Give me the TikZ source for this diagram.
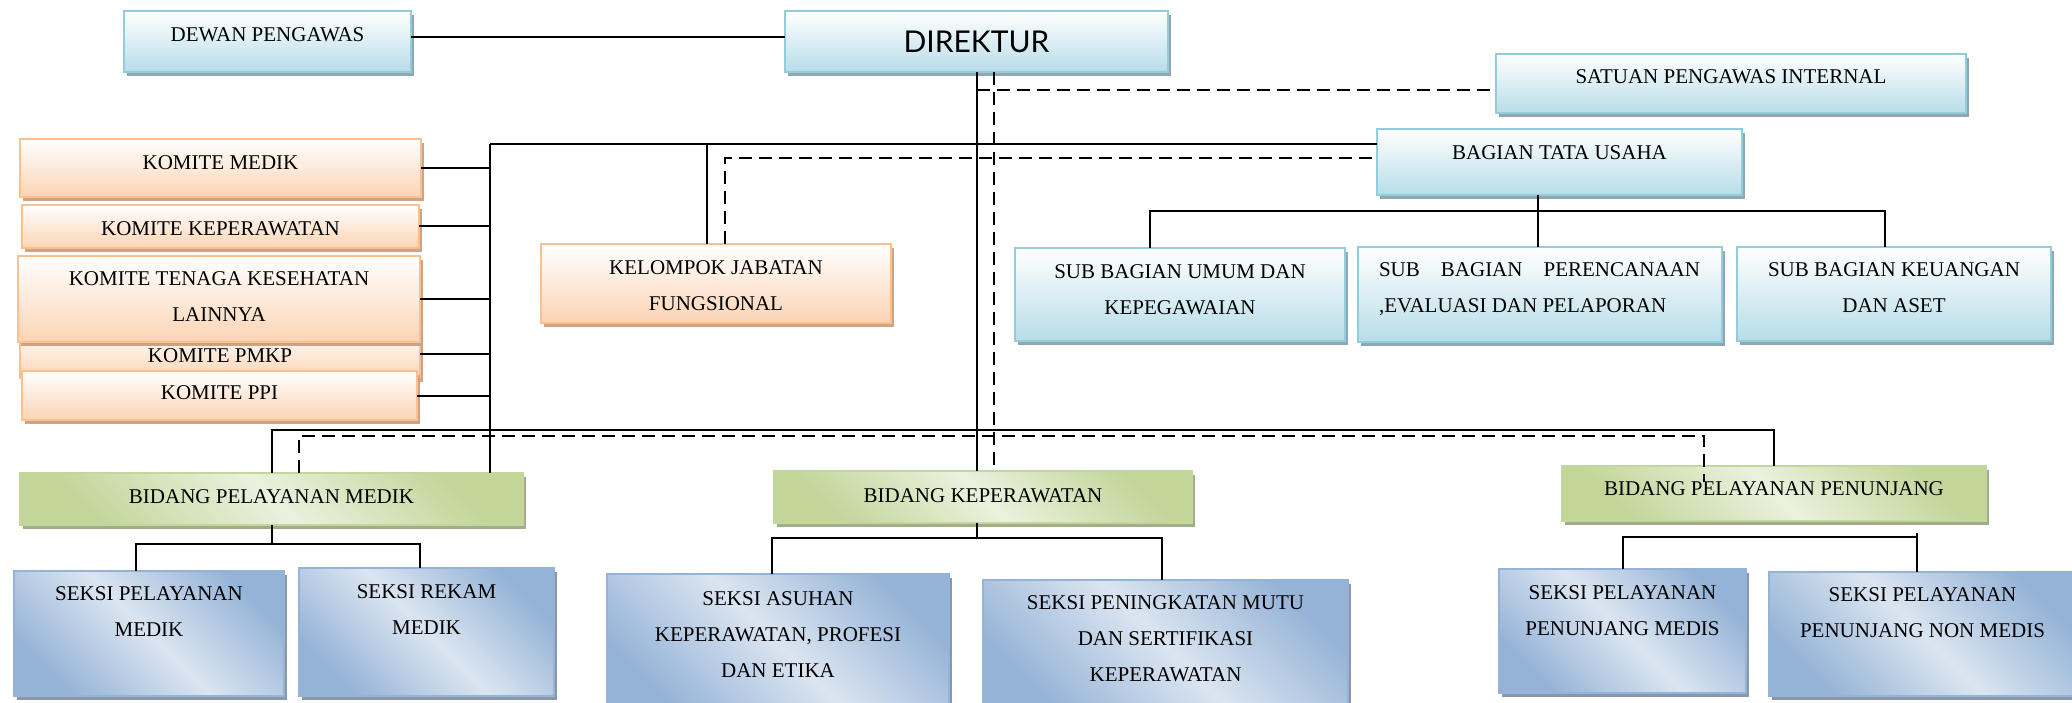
\documentclass[tikz,border=0pt]{standalone}
\usepackage{fontspec}
\setmainfont{Liberation Serif}
\newfontfamily\dirfont{Lato}
\usetikzlibrary{shadows,calc}

\definecolor{hdrB}{HTML}{93CDDD}
\definecolor{hdrF}{HTML}{B7DDE8}
\definecolor{hdrS}{HTML}{8FA7B2}
\definecolor{orB}{HTML}{FAC08F}
\definecolor{orF}{HTML}{FBD4B4}
\definecolor{orS}{HTML}{CCA384}
\definecolor{grB}{HTML}{C3D69B}
\definecolor{grF}{HTML}{C2D69A}
\definecolor{grL}{HTML}{EBF1DE}
\definecolor{grS}{HTML}{A5AC8C}
\definecolor{skB}{HTML}{95B3D7}
\definecolor{skF}{HTML}{95B3D7}
\definecolor{skL}{HTML}{DBE5F1}
\definecolor{skS}{HTML}{8A97A8}

\tikzset{
  boxbase/.style={rectangle, inner sep=0pt, outer sep=0pt, line width=2.5pt},
  hdr/.style={boxbase, draw=hdrB, top color=white, bottom color=hdrF,
    general shadow={fill=hdrS, shadow xshift=3pt, shadow yshift=-4pt}},
  orb/.style={boxbase, draw=orB, top color=white, bottom color=orF,
    general shadow={fill=orS, shadow xshift=3pt, shadow yshift=-4pt}},
  grb/.style={boxbase, draw=grB, top color=grF, bottom color=grF, middle color=grL, shading angle=-45,
    general shadow={fill=grS, shadow xshift=3pt, shadow yshift=-4pt}},
  skb/.style={boxbase, draw=skB, top color=skF, bottom color=skF, middle color=skL, shading angle=-45,
    general shadow={fill=skS, shadow xshift=3pt, shadow yshift=-4pt}},
  txt/.style={inner sep=0pt, outer sep=0pt, align=center, font=\fontsize{21}{36}\selectfont},
  conn/.style={draw=black, line width=2pt},
  dsh/.style={draw=black, line width=2pt, dash pattern=on 13pt off 7pt},
}

% #1 style, #2 name, #3 x1, #4 y1, #5 x2, #6 y2, #7 first-line centre y, #8 text
\newcommand\bx[8]{%
  \node[#1, minimum width=#5pt-#3pt, minimum height=#6pt-#4pt] (#2) at ({(#3+#5)/2},{(#4+#6)/2}) {};
  \node[txt, anchor=north] (#2-t) at ({(#3+#5)/2},{#7-7}) {#8};
}

\begin{document}
\begin{tikzpicture}[x=1pt, y=-1pt]
\useasboundingbox (0,0) rectangle (2072,703);

% header boxes
\bx{hdr}{dewan}{124}{11}{411}{72}{35}{DEWAN PENGAWAS}
\node[hdr, minimum width=383pt, minimum height=61pt] (direktur) at (976.5,41.5) {};
\node[inner sep=0pt, anchor=north, font=\dirfont\fontsize{30}{36}\selectfont] (direktur-t) at (976.5,31) {DIREKTUR};
\bx{hdr}{spi}{1496}{54}{1966}{113}{77}{SATUAN PENGAWAS INTERNAL}
\bx{hdr}{btu}{1377}{129}{1742}{195}{153}{BAGIAN TATA USAHA}
\bx{hdr}{sumum}{1015}{248}{1345}{341}{272}{SUB BAGIAN UMUM DAN\\KEPEGAWAIAN}
\node[hdr, minimum width=364pt, minimum height=95pt] (sperenc) at (1540,294.5) {};
\node[txt, align=left, anchor=north west] (sperenc-t) at (1379,263)
  {\makebox[321pt][s]{SUB BAGIAN PERENCANAAN}\\,EVALUASI DAN PELAPORAN};
\bx{hdr}{skeu}{1737}{247}{2051}{341}{270}{SUB BAGIAN KEUANGAN\\DAN ASET}

% komite boxes
\bx{orb}{km}{20}{139}{421}{197}{163}{KOMITE MEDIK}
\bx{orb}{kkep}{22}{205}{419}{248}{229}{KOMITE KEPERAWATAN}
\bx{orb}{kpmkp}{20}{330}{420}{378}{356}{KOMITE PMKP}
\bx{orb}{ktk}{18}{256}{420}{342}{279}{KOMITE TENAGA KESEHATAN\\LAINNYA}
\bx{orb}{kppi}{22}{371}{417}{420}{393}{KOMITE PPI}
\bx{orb}{kjf}{541}{244}{891}{323}{268}{KELOMPOK JABATAN\\FUNGSIONAL}

% bidang boxes
\bx{grb}{bmedik}{20}{473}{523}{525}{497}{BIDANG PELAYANAN MEDIK}
\bx{grb}{bkep}{774}{471}{1192}{523}{496}{BIDANG KEPERAWATAN}
\bx{grb}{bpen}{1562}{466}{1986}{521}{489}{BIDANG PELAYANAN PENUNJANG}

% seksi boxes
\bx{skb}{spm}{14}{571}{284}{696}{594}{SEKSI PELAYANAN\\MEDIK}
\bx{skb}{srm}{299}{568}{554}{696}{592}{SEKSI REKAM\\MEDIK}
\bx{skb}{sas}{607}{574}{949}{712}{599}{SEKSI ASUHAN\\KEPERAWATAN, PROFESI\\DAN ETIKA}
\bx{skb}{spk}{983}{580}{1348}{712}{603}{SEKSI PENINGKATAN MUTU\\DAN SERTIFIKASI\\KEPERAWATAN}
\bx{skb}{sppm}{1499}{569}{1746}{693}{593}{SEKSI PELAYANAN\\PENUNJANG MEDIS}
\bx{skb}{sppnm}{1769}{572}{2076}{696}{595}{SEKSI PELAYANAN\\PENUNJANG NON MEDIS}

% helper coordinates
\coordinate (yDew) at (0,37);
\coordinate (ySPI) at (0,90);
\coordinate (yTop) at (0,144);
\coordinate (yTopD) at (0,158);
\coordinate (ySub) at (0,211);
\coordinate (yBus) at (0,430);
\coordinate (yBusD) at (0,436);
\coordinate (yBM) at (0,544);
\coordinate (yBK) at (0,538);
\coordinate (yBP) at (0,537);
\coordinate (xK) at (490,0);
\coordinate (xKJ) at (707,0);
\coordinate (xKJd) at (725,0);
\coordinate (xDd) at (994,0);
\coordinate (xBTU) at (1538,0);
\coordinate (xSU) at (1150,0);
\coordinate (xSK) at (1885,0);
\coordinate (xBMd) at (299,0);
\coordinate (xBPd) at (1704,0);
\coordinate (xA) at (136,0);
\coordinate (xB) at (420,0);
\coordinate (xC) at (772,0);
\coordinate (xD) at (1162,0);
\coordinate (xF) at (1917,0);
\coordinate (bpD) at (1704,482);
\coordinate (bpT) at (1917,533);

% connectors
\draw[conn] (dewan.east |- yDew) -- (direktur.west |- yDew);
\draw[conn] (direktur.south) -- (direktur.south |- bkep.north);
\draw[dsh] (direktur.south -| xDd) -- (xDd |- bkep.north);
\draw[dsh] (direktur.south |- ySPI) -- (spi.west |- ySPI);

\draw[conn] (xK |- yTop) -- (btu.west |- yTop);
\draw[conn] (xK |- yTop) -- (xK |- bmedik.north);
\foreach \k in {km,kkep,ktk,kpmkp,kppi}{
  \draw[conn] (\k.east) -- (\k.east -| xK);
}
\draw[conn] (xKJ |- yTop) -- (xKJ |- kjf.north);
\draw[dsh] (xKJd |- kjf.north) -- (xKJd |- yTopD) -- (btu.west |- yTopD);

\draw[conn] (btu.south -| xBTU) -- (xBTU |- sperenc.north);
\draw[conn] (xSU |- sumum.north) -- (xSU |- ySub) -- (xSK |- ySub) -- (xSK |- skeu.north);

\draw[conn] (bmedik.north) -- (bmedik.north |- yBus) -- (bpen.north |- yBus) -- (bpen.north);
\draw[dsh] (xBMd |- bmedik.north) -- (xBMd |- yBusD) -- (xBPd |- yBusD) -- (bpD);

\draw[conn] (bmedik.south) -- (bmedik.south |- yBM);
\draw[conn] (xA |- spm.north) -- (xA |- yBM) -- (xB |- yBM) -- (xB |- srm.north);

\draw[conn] (bkep.south -| direktur.south) -- (direktur.south |- yBK);
\draw[conn] (xC |- sas.north) -- (xC |- yBK) -- (xD |- yBK) -- (xD |- spk.north);

\draw[conn] (sppm.north) -- (sppm.north |- yBP) -- (xF |- yBP);
\draw[conn] (bpT) -- (xF |- sppnm.north);
\end{tikzpicture}
\end{document}
